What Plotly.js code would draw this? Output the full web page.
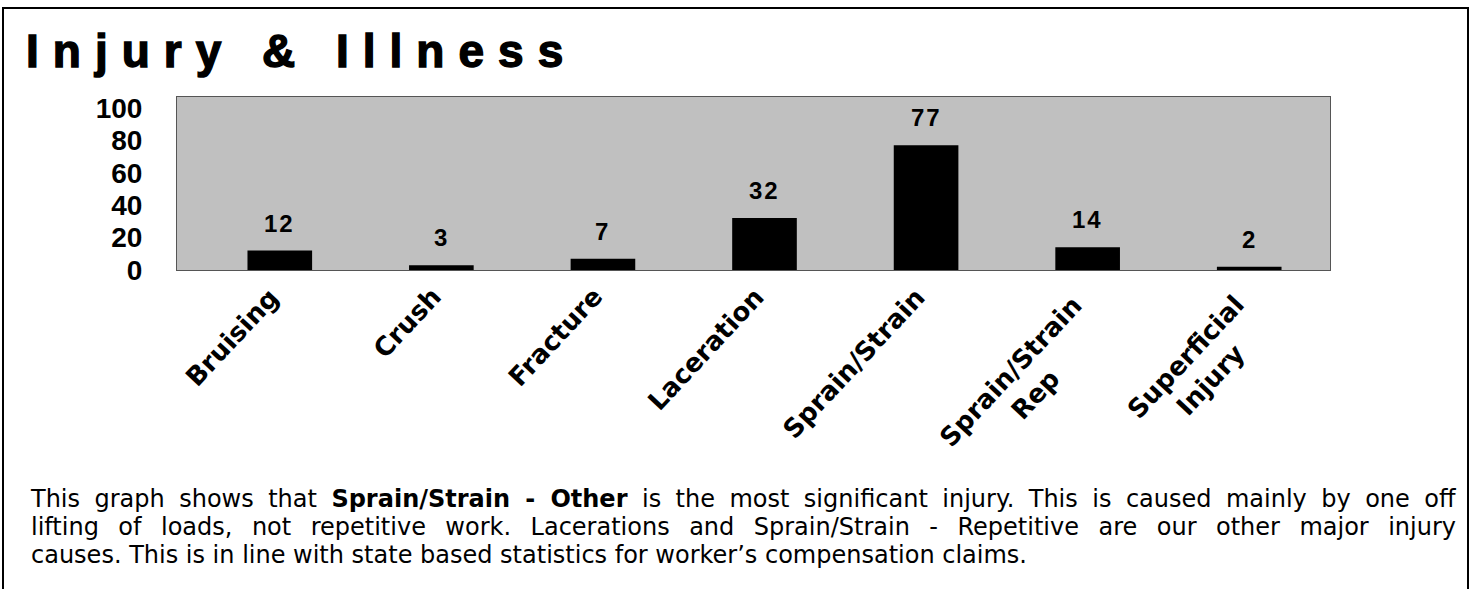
<!DOCTYPE html>
<html>
<head>
<meta charset="utf-8">
<script src="https://cdn.plot.ly/plotly-3.0.1.min.js"></script>
<style>
  html, body { margin: 0; padding: 0; background: #fff; overflow: hidden; }
  #chart { position: absolute; left: 0; top: 0; width: 1471px; height: 589px; }
  #frame { position: absolute; left: 2px; top: 7px; width: 1467px; height: 640px;
           border: 2px solid #000; box-sizing: border-box; pointer-events: none; }
  .gtitle { letter-spacing: 14px; stroke: #000; stroke-width: 1.4px; }
</style>
</head>
<body>
<div id="chart"></div>
<div id="frame"></div>
<script>
// ---- data ----
const categories = ['Bruising', 'Crush', 'Fracture', 'Laceration', 'Sprain/Strain', 'Sprain/Strain Rep', 'Superficial Injury'];
const tickLabels = ['Bruising', 'Crush', 'Fracture', 'Laceration', 'Sprain/Strain', 'Sprain/Strain<br>Rep', 'Superficial<br>Injury'];
const values = [12, 3, 7, 32, 77, 14, 2];
const yTicks = [0, 20, 40, 60, 80, 100];
const titleText = 'Injury & Illness';
const noteLines = [
  'This graph shows that <b>Sprain/Strain - Other</b> is the most significant injury. This is caused mainly by one off',
  'lifting of loads, not repetitive work. Lacerations and Sprain/Strain - Repetitive are our other major injury',
  'causes. This is in line with state based statistics for worker\u2019s compensation claims.'
];

// ---- layout geometry ----
const W = 1471, H = 589;
const M = { l: 177, r: 141, t: 97, b: 319 };
const plotW = W - M.l - M.r, plotH = H - M.t - M.b;
const pxToPaperX = px => (px - M.l) / plotW;
const pxToPaperY = py => (H - M.b - py) / plotH;

const barFont = { family: 'Liberation Sans, Arial, sans-serif', size: 24, color: '#000', weight: 'bold' };
const catFont = { family: 'DejaVu Sans, Verdana, sans-serif', size: 26, color: '#000', weight: 'bold' };
const noteFont = { family: 'DejaVu Sans, Verdana, sans-serif', size: 24, color: '#000' };
const labelAngle = -47;
const lineH = catFont.size * 1.3;
const sinA = Math.sin(Math.abs(labelAngle) * Math.PI / 180);

const annotations = [];
categories.forEach((c, i) => {
  annotations.push({
    x: c, y: values[i], xref: 'x', yref: 'y', text: String(values[i]),
    showarrow: false, yanchor: 'bottom', xanchor: 'center', yshift: 12, font: barFont
  });
});
categories.forEach((c, i) => {
  const extra = tickLabels[i].split('<br>').length - 1;
  annotations.push({
    x: c, y: 0, xref: 'x', yref: 'y', text: tickLabels[i],
    showarrow: false, xanchor: 'right', yanchor: 'top', textangle: labelAngle,
    align: 'center', xshift: 8 + extra * lineH * sinA * 0.8, yshift: -9 - extra * 8, font: catFont
  });
});
const noteIndex = annotations.length;
annotations.push({
  xref: 'paper', yref: 'paper', x: pxToPaperX(28), y: pxToPaperY(482),
  xanchor: 'left', yanchor: 'top', align: 'left', showarrow: false,
  text: noteLines.join('<br>'), font: noteFont
});

const trace = {
  type: 'bar', x: categories, y: values,
  marker: { color: '#000', line: { width: 0 } },
  hoverinfo: 'none'
};

const layout = {
  width: W, height: H, margin: M,
  paper_bgcolor: '#fff', plot_bgcolor: '#C0C0C0',
  showlegend: false, bargap: 0.6,
  title: {
    text: titleText, xref: 'container', yref: 'container',
    x: 26 / W, xanchor: 'left', y: 1 - 51 / H, yanchor: 'middle',
    font: { family: 'Liberation Sans, Arial, sans-serif', size: 46, color: '#000', weight: 'bold' }
  },
  xaxis: {
    type: 'category', showticklabels: false, ticks: '', showgrid: false, zeroline: false,
    showline: true, mirror: true, linecolor: '#555', linewidth: 1, fixedrange: true
  },
  yaxis: {
    range: [0, 106.7], tickvals: yTicks, ticktext: yTicks.map(String), ticks: '',
    showgrid: false, zeroline: false, showline: true, mirror: true,
    linecolor: '#555', linewidth: 1, ticklabelstandoff: 28,
    tickfont: { family: 'Liberation Sans, Arial, sans-serif', size: 28, color: '#000', weight: 'bold' },
    fixedrange: true
  },
  annotations: annotations
};

Plotly.newPlot('chart', [trace], layout, { staticPlot: true, displayModeBar: false }).then(gd => {
  const rightEdge = 1456;
  const lineGap = 28;          // line pitch of the note, px
  const firstCenter = 499;     // vertical centre of the note's first line, px
  gd.querySelectorAll('.annotation').forEach(g => {
    const idx = +g.getAttribute('data-index');
    const t = g.querySelector('text');
    if (!t) return;
    if (idx < categories.length) {
      t.style.letterSpacing = '2px';
    } else if (idx === noteIndex) {
      const lines = Array.from(t.querySelectorAll('tspan.line'));
      if (!lines.length) return;
      lines.forEach((ln, i) => ln.setAttribute('dy', (i * lineGap) + 'px'));
      const r0 = lines[0].getBoundingClientRect();
      const shift = firstCenter - (r0.top + r0.height / 2);
      lines.forEach(ln => {
        const y = parseFloat(ln.getAttribute('y')) || 0;
        ln.setAttribute('y', (y + shift).toFixed(2));
      });
      // justify all lines but the last
      lines.forEach((ln, i) => {
        if (i === lines.length - 1) return;
        const r = ln.getBoundingClientRect();
        const spaces = (ln.textContent.match(/ /g) || []).length;
        if (spaces > 0) ln.style.wordSpacing = ((rightEdge - r.right) / spaces).toFixed(2) + 'px';
      });
    }
  });
});
</script>
</body>
</html>
